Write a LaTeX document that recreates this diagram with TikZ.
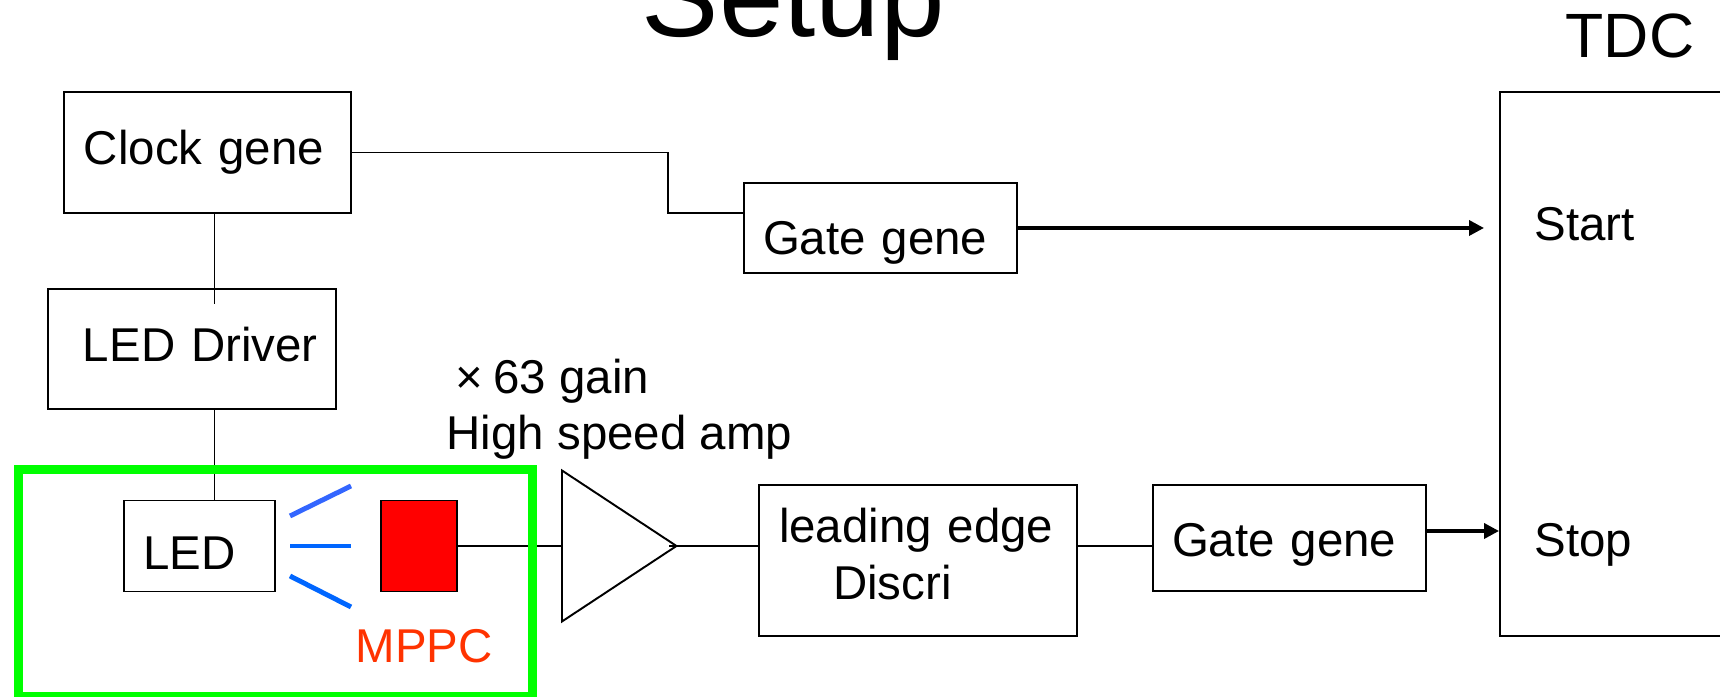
\documentclass[tikz,border=0pt]{standalone}
\usepackage{fontspec}
\setmainfont{Liberation Sans}
\usepackage{tikz}
\usetikzlibrary{arrows.meta,shapes.geometric}
\usepackage{xcolor}
\definecolor{framegreen}{rgb}{0, 1, 0}
\definecolor{rayblue}{rgb}{0, 0.4, 1}
\definecolor{rayblueb}{rgb}{0.2, 0.4, 1}
\definecolor{mppcred}{rgb}{1, 0.2, 0}
\begin{document}
\begin{tikzpicture}

		\tikzset{every node/.style = {font=\fontsize{13.5}{16.2}\selectfont}}
		\tikzset{block/.style = {shape=rectangle,draw,line width=0.55pt,inner sep=0pt,align=left}}
		\tikzset{txt/.style = {inner sep=0pt,anchor=base west,align=left}}
		\tikzset{edge/.style = {line width=0.55pt}}
		\tikzset{signal/.style = {-{Triangle[length=0.15cm,width=0.15cm]},line width=1pt}}
		\tikzset{ray/.style = {line width=1.4pt,rayblue}}
		\useasboundingbox (0,0) rectangle (17.2,-6.97);
		% boxes
		% Top row
		\node[block, text width=2.87cm, text height=0.73cm, text depth=0.48cm] (clock) at (2.075,-1.525) {\hspace*{0.2cm}Clock gene};
		\node[block, text width=2.73cm, text height=0.72cm, text depth=0.18cm] (gate1) at (8.805,-2.28) {\hspace*{0.19cm}Gate gene};
		\node[block, text width=2.88cm, text height=0.73cm, text depth=0.47cm] (driver) at (1.92,-3.49) {\hspace*{0.35cm}LED Driver};
		% Bottom row
		\node[block, text width=1.51cm, text height=0.69cm, text depth=0.22cm] (led) at (1.995,-5.46) {\hspace*{0.19cm}LED};
		\node[block, fill=red, minimum width=0.76cm, minimum height=0.91cm] (mppc) at (4.19,-5.46) {};
		\node[shape=isosceles triangle, draw, line width=0.55pt, inner sep=0pt, isosceles triangle stretches, minimum width=1.51cm, minimum height=1.145cm, anchor=apex] (amp) at (6.79,-5.46) {};
		\node[block, text width=3.18cm, text height=0.58cm, text depth=0.93cm] (discri) at (9.18,-5.605) {\hspace*{0.2cm}leading edge\\\hspace*{0.74cm}Discri};
		\node[block, text width=2.73cm, text height=0.72cm, text depth=0.34cm] (gate2) at (12.895,-5.38) {\hspace*{0.19cm}Gate gene};
		\node[block, minimum width=2.5cm, minimum height=5.44cm] (tdc) at (16.25,-3.64) {};
		% labels
		\node[txt, font=\fontsize{33}{39}\selectfont] (setup) at (6.41,-0.37) {Setup};
		\node[txt, font=\fontsize{17.8}{21}\selectfont] (tdclabel) at (15.65,-0.58) {TDC};
		\node[txt] (start) at (15.34,-2.41) {Start};
		\node[txt] (stop) at (15.34,-5.57) {Stop};
		\node[txt, text=mppcred] (mppclabel) at (3.55,-6.63) {MPPC};
		\node[txt] (gain) at (4.46,-4.5) {\hspace*{0.09cm}×\hspace{0.1cm}63 gain\\High speed amp};

		% edges
		\coordinate (bend) at (6.68,-2.13);
		\coordinate (feed) at (2.145,-3.04);
		\draw[edge] (clock.east) -| (bend) -- (bend -| gate1.west);
		\draw[edge] (clock.south -| feed) -- (feed);
		\draw[edge] (driver.south -| feed) -- (led.north -| feed);
		\draw[edge] (mppc.east) -- (amp.west |- mppc.east);
		\draw[edge] ([xshift=-0.1cm]amp.apex) -- (discri.west |- amp.apex);
		\draw[edge] (discri.east |- amp.apex) -- (gate2.west |- amp.apex);
		\draw[signal] (gate1.east) -- (14.84,-2.28);
		\coordinate (stopin) at (tdc.west |- 0,-5.31);
		\draw[signal] (gate2.east |- stopin) -- (stopin);
		% rays
		\coordinate (rayfrom) at (2.9,-5.46);
		\coordinate (rayto) at (3.51,-5.46);
		\draw[ray, rayblueb] (2.9,-5.16) -- (3.51,-4.86);
		\draw[ray] (rayfrom) -- (rayto);
		\draw[ray] (2.9,-5.76) -- (3.51,-6.07);
		% frame
		\node[shape=rectangle, draw=framegreen, line width=0.09cm, minimum width=5.14cm, minimum height=2.27cm, inner sep=0pt] (frame) at (2.755,-5.835) {};

\end{tikzpicture}
\end{document}
